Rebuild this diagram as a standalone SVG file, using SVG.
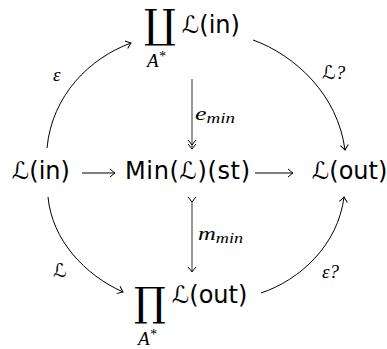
<svg xmlns="http://www.w3.org/2000/svg" width="387" height="349" viewBox="0 0 387 349">
<style>
.t{font-family:"DejaVu Sans",sans-serif;font-size:24px;fill:#000}
.big{font-family:"DejaVu Serif","DejaVu Sans","Noto Sans",serif;font-size:40px;fill:#000}
.it{font-family:"Liberation Serif","DejaVu Serif",serif;font-style:italic;fill:#000;font-size:19px}
.sub{font-size:14px}
.cal{font-family:"DejaVu Sans",sans-serif;font-style:italic}
.c{fill:none;stroke:#000;stroke-width:1}
.v{fill:none;stroke:#333;stroke-width:1}
</style>
<defs>
<marker id="to" markerUnits="userSpaceOnUse" markerWidth="12" markerHeight="12" refX="0" refY="0" viewBox="-7 -6 8 12" orient="auto" overflow="visible">
<path d="M-5,-4 Q-1.5,-1 0,0 Q-1.5,1 -5,4" fill="none" stroke="#000" stroke-width="1"/>
</marker>
<marker id="two" markerUnits="userSpaceOnUse" markerWidth="16" markerHeight="12" refX="0" refY="0" viewBox="-10 -6 11 12" orient="auto" overflow="visible">
<path d="M-5,-4 Q-1.5,-1 0,0 Q-1.5,1 -5,4 M-9,-4 Q-5.5,-1 -4,0 Q-5.5,1 -9,4" fill="none" stroke="#000" stroke-width="1"/>
</marker>
<marker id="tail" markerUnits="userSpaceOnUse" markerWidth="12" markerHeight="12" refX="0" refY="0" viewBox="-7 -6 8 12" orient="auto" overflow="visible">
<path d="M-5,-4 Q-1.5,-1 0,0 Q-1.5,1 -5,4" fill="none" stroke="#000" stroke-width="1"/>
</marker>
</defs>
<g id="top">
<text class="big" x="144" y="38">∐</text>
<text class="t" x="182" y="33"><tspan class="cal">ℒ</tspan>(in)</text>
<text class="it" x="147" y="67" font-size="18">A<tspan class="sub" dy="-6">*</tspan></text>
</g>
<g id="left">
<text class="t" x="12" y="179"><tspan class="cal">ℒ</tspan>(in)</text>
</g>
<g id="mid">
<text class="t" x="125" y="179" textLength="125">Min(<tspan class="cal">ℒ</tspan>)(st)</text>
</g>
<g id="right">
<text class="t" x="312" y="179"><tspan class="cal">ℒ</tspan>(out)</text>
</g>
<g id="bottom">
<text class="big" x="134" y="316">∏</text>
<text class="t" x="172" y="303"><tspan class="cal">ℒ</tspan>(out)</text>
<text class="it" x="138" y="345" font-size="18">A<tspan class="sub" dy="-6">*</tspan></text>
</g>
<g id="connectors">
<path class="c" d="M47,148 C52,95 90,58 131,43" marker-end="url(#to)"/>
<path class="c" d="M253,40 C295,55 338,95 345,150" marker-end="url(#to)"/>
<path class="c" d="M48,197 C52,240 85,275 123,292" marker-end="url(#to)"/>
<path class="c" d="M261,293 C300,280 338,245 344,197" marker-end="url(#to)"/>
<path class="c" d="M82,173 H115" marker-end="url(#to)"/>
<path class="c" d="M255,173 H293" marker-end="url(#to)"/>
<path class="v" d="M192,79 V149" marker-end="url(#two)"/>
<path class="v" d="M192,202 V272" marker-start="url(#tail)" marker-end="url(#to)"/>
</g>
<g id="labels">
<text class="it" x="53" y="81">ε</text>
<text class="it" x="322" y="79"><tspan class="cal">ℒ</tspan>?</text>
<text class="it" x="195" y="120" textLength="40" lengthAdjust="spacingAndGlyphs">e<tspan class="sub" dy="3">min</tspan></text>
<text class="it" x="198" y="240" textLength="45" lengthAdjust="spacingAndGlyphs">m<tspan class="sub" dy="3">min</tspan></text>
<text class="it" x="53" y="277"><tspan class="cal">ℒ</tspan></text>
<text class="it" x="322" y="278">ε?</text>
</g>
</svg>
